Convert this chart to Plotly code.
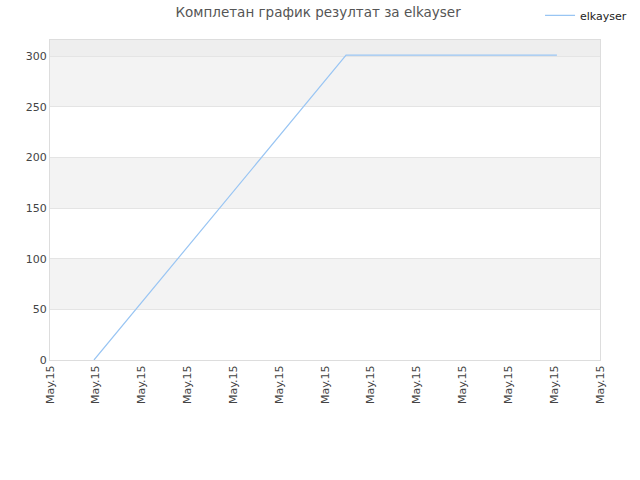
import plotly.graph_objects as go

# data
x_pos = [0.96, 6.46, 9.47, 11.06]
scores = [0, 301, 301, 301]
x_ticks = list(range(13))
x_labels = ["May.15"] * 13
y_ticks = [0, 50, 100, 150, 200, 250, 300]

fig = go.Figure()

fig.add_trace(go.Scatter(x=x_pos, y=scores, mode='lines', name='elkayser',
                         line=dict(color='#99c5f3', width=1.2)))

# alternating horizontal bands
shapes = []
for i in range(len(y_ticks) - 1):
    if i % 2 == 1:
        shapes.append(dict(type='rect', xref='paper', yref='y', x0=0, x1=1,
                           y0=y_ticks[i], y1=y_ticks[i + 1],
                           fillcolor='#f3f3f3', line_width=0, layer='below'))
shapes.append(dict(type='rect', xref='paper', yref='y', x0=0, x1=1,
                   y0=y_ticks[-1], y1=316, fillcolor='#eeeeee', line_width=0, layer='below'))

fig.update_layout(
    width=640, height=480,
    margin=dict(l=50, r=40, t=40, b=120, autoexpand=False),
    paper_bgcolor='white', plot_bgcolor='white',
    font=dict(family='DejaVu Sans', size=11, color='#444444'),
    title=dict(text='Комплетан график резултат за elkayser', x=0.497, y=0.975,
               xanchor='center', yanchor='middle',
               font=dict(size=13.5, color='#555555')),
    showlegend=True,
    legend=dict(x=0.891, y=0.968, yref='container',
                xanchor='left', yanchor='middle',
                font=dict(size=11, color='#222222'), bgcolor='rgba(0,0,0,0)'),
    shapes=shapes,
    xaxis=dict(range=[0, 12], tickvals=x_ticks, ticktext=x_labels, tickangle=-90,
               showgrid=False, zeroline=False, showline=True, linecolor='#dddddd',
               mirror=True, ticks='', tickfont=dict(size=11, color='#444444')),
    yaxis=dict(range=[0, 316], tickvals=y_ticks, showgrid=True, gridcolor='#e4e4e4',
               zeroline=False, showline=True, linecolor='#dddddd', mirror=True,
               ticks='', tickfont=dict(size=11, color='#444444')),
)

# drop the page's default body margin so the figure sits at the top-left corner
fig.write_html("out.html", config={'displayModeBar': False},
               post_script="document.body.style.margin='0';")
